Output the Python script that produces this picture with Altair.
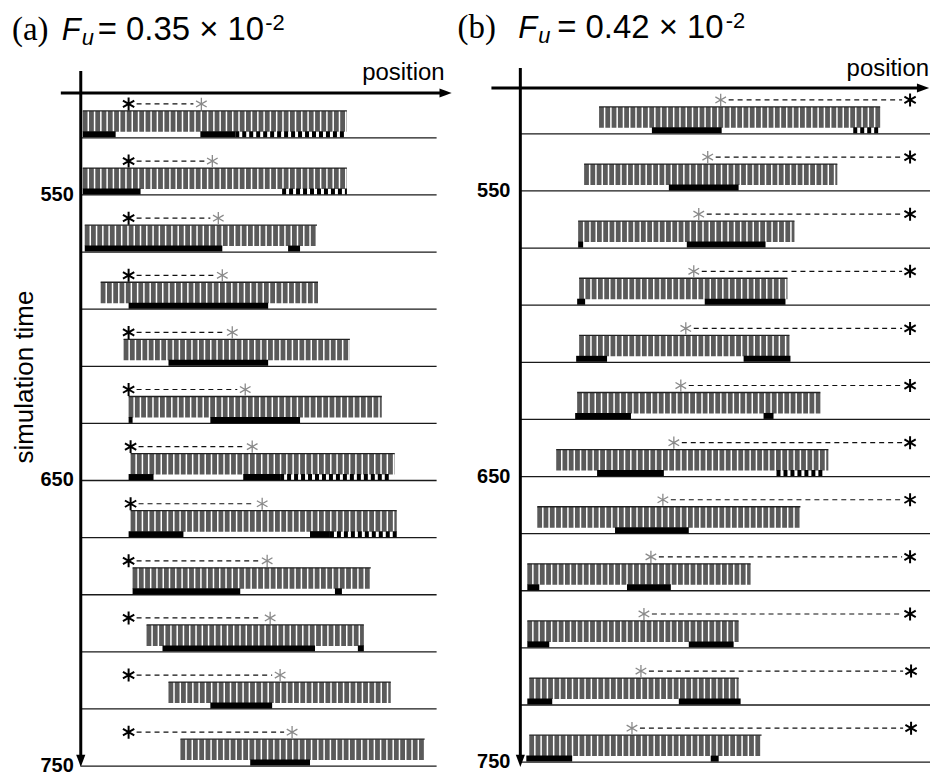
import altair as alt
import pandas as pd

# ---------------- data ----------------
times = [530, 550, 570, 590, 610, 630, 650, 670, 690, 710, 730, 750]
tick_times = [550, 650, 750]

# panel (a): positions measured from the time axis
a_bar_start = [2, 2, 4, 20, 43, 48, 50, 50, 52, 66, 88, 100]
a_bar_end = [267, 267, 237, 238, 270, 302, 315, 317, 291, 284, 311, 345]
a_star_solid = [48, 48, 48, 48, 48, 48, 50, 50, 48, 48, 48, 48]
a_star_light = [121, 132, 138, 142, 152, 165, 172, 182, 187, 190, 200, 212]
a_black = [(530, 2, 35), (530, 120, 155), (550, 2, 60), (570, 4, 142), (570, 208, 220),
           (590, 48, 188), (610, 88, 188), (630, 48, 52), (630, 130, 220),
           (650, 48, 73), (650, 163, 200), (670, 48, 103), (670, 230, 250),
           (690, 52, 160), (690, 255, 262), (710, 82, 235), (710, 278, 284),
           (730, 130, 192), (750, 170, 230)]
a_dotted = [(530, 155, 267), (550, 202, 267), (650, 200, 310), (670, 250, 317)]

# panel (b)
b_bar_start = [79, 64, 58, 59, 59, 57, 36, 17, 7, 7, 9, 9]
b_bar_end = [361, 318, 275, 268, 270, 301, 309, 281, 231, 219, 219, 242]
b_star_solid = [391, 391, 391, 391, 391, 391, 391, 391, 391, 391, 392, 392]
b_star_light = [201, 188, 179, 174, 166, 161, 154, 143, 131, 124, 121, 112]
b_black = [(530, 132, 202), (550, 149, 219), (570, 58, 63), (570, 167, 246),
           (590, 57, 65), (590, 185, 266), (610, 56, 87), (610, 224, 271),
           (630, 55, 111), (630, 244, 254), (650, 77, 144), (670, 95, 169),
           (690, 7, 19), (690, 107, 151), (710, 7, 29), (710, 169, 214),
           (730, 7, 32), (730, 159, 221), (750, 6, 52), (750, 191, 199)]
b_dotted = [(530, 334, 361), (650, 257, 305)]

title_a = ["(a)", "F", "u", "= 0.35 \u00d7 10", "-2"]
title_b = ["(b)", "F", "u", "= 0.42 \u00d7 10", "-2"]
axis_x_label = "position"
axis_y_label = "simulation time"

# ---------------- layout ----------------
PPU = 57.3 / 20.0          # pixels per time unit
SANS = "Liberation Sans"
SERIF = "Liberation Serif"
STAR = "M0,-1L0,1M-0.87,-0.5L0.87,0.5M-0.87,0.5L0.87,-0.5"
TRI_R = "M-1,-0.75L1,0L-1,0.75Z"
TRI_D = "M-0.75,-1L0,1L0.75,-1Z"


def tu(px):
    return px / PPU


def build(p):
    W, H = p["width"], p["height"]
    ax = p["axis_x"]
    x0 = p["left"] - ax
    base = p["base_y"]

    def t_of(py):
        return 530 + (py - base) / PPU

    xs = alt.Scale(domain=[x0, x0 + W], nice=False, zero=False)
    ys = alt.Scale(domain=[t_of(8), t_of(8 + H)], nice=False, zero=False, reverse=True)

    def X(f):
        return alt.X(f, type="quantitative", scale=xs, axis=None)

    def Y(f):
        return alt.Y(f, type="quantitative", scale=ys, axis=None)

    rows = pd.DataFrame({"time": times, "start": p["bar_start"], "end": p["bar_end"],
                         "solid": p["solid"], "light": p["light"]})
    rows["line_from"] = 0
    rows["line_to"] = p["line_end"] - ax
    rows["bar_y"] = rows["time"] - tu(16.5)
    rows["top_y"] = rows["time"] - tu(27)
    rows["star_y"] = rows["time"] - tu(34)
    lo = rows[["solid", "light"]].min(axis=1)
    hi = rows[["solid", "light"]].max(axis=1)
    rows["dash_from"] = lo + 8
    rows["dash_to"] = hi - 8

    blk = pd.DataFrame(p["black"], columns=["time", "a", "b"])
    blk["y"] = blk["time"] - tu(3.5)
    dot = pd.DataFrame(p["dotted"], columns=["time", "a", "b"])
    dot["y"] = dot["time"] - tu(3.5)

    layers = []
    layers.append(alt.Chart(rows).mark_rule(color="#1a1a1a", strokeWidth=1.3)
                  .encode(x=X("line_from"), x2="line_to", y=Y("time")))
    layers.append(alt.Chart(rows).mark_rule(color="#5a5a5a", strokeWidth=21, strokeDash=[4.8, 1.5])
                  .encode(x=X("start"), x2="end", y=Y("bar_y")))
    layers.append(alt.Chart(rows).mark_rule(color="#222222", strokeWidth=1.3)
                  .encode(x=X("start"), x2="end", y=Y("top_y")))
    layers.append(alt.Chart(blk).mark_rule(color="#000000", strokeWidth=6)
                  .encode(x=X("a"), x2="b", y=Y("y")))
    layers.append(alt.Chart(dot).mark_rule(color="#000000", strokeWidth=6, strokeDash=[4, 3])
                  .encode(x=X("a"), x2="b", y=Y("y")))
    layers.append(alt.Chart(rows).mark_rule(color="#111111", strokeWidth=1.2, strokeDash=[5, 4])
                  .encode(x=X("dash_from"), x2="dash_to", y=Y("star_y")))
    layers.append(alt.Chart(rows).mark_point(shape=STAR, filled=False, size=170, strokeWidth=2,
                                             color="#000000", opacity=1)
                  .encode(x=X("solid"), y=Y("star_y")))
    layers.append(alt.Chart(rows).mark_point(shape=STAR, filled=False, size=150, strokeWidth=1.3,
                                             color="#8a8a8a", opacity=1)
                  .encode(x=X("light"), y=Y("star_y")))

    # axes with arrows
    vax = pd.DataFrame({"x": [0], "y1": [t_of(p["vtop"])], "y2": [t_of(8 + H - 8)]})
    hax = pd.DataFrame({"x1": [p["hfrom"] - ax], "x2": [p["htip"] - ax - 6], "y": [t_of(p["hy"])]})
    layers.append(alt.Chart(vax).mark_rule(color="#000000", strokeWidth=3)
                  .encode(x=X("x"), y=Y("y1"), y2="y2"))
    layers.append(alt.Chart(hax).mark_rule(color="#000000", strokeWidth=3)
                  .encode(x=X("x1"), x2="x2", y=Y("y")))
    layers.append(alt.Chart(hax).mark_point(shape=TRI_R, filled=True, size=150, color="#000000", opacity=1)
                  .encode(x=X("x2"), y=Y("y")))
    layers.append(alt.Chart(vax).mark_point(shape=TRI_D, filled=True, size=150, color="#000000", opacity=1)
                  .encode(x=X("x"), y=Y("y2")))

    ticks = pd.DataFrame({"time": tick_times, "x": [0] * len(tick_times),
                          "label": [str(t) for t in tick_times]})
    layers.append(alt.Chart(ticks).mark_text(font=SANS, fontSize=20, fontWeight="bold", align="right",
                                             baseline="middle", dx=p["tick_dx"], color="#000000")
                  .encode(x=X("x"), y=Y("time"), text="label:N"))

    # text annotations (panel pixel coordinates)
    def txt(s, x, y, **kw):
        return alt.Chart(pd.DataFrame({"label": [s]})).mark_text(
            align=kw.pop("align", "left"), baseline="alphabetic", color="#000000", **kw
        ).encode(x=alt.value(x), y=alt.value(y), text="label:N")

    L = p["left"]
    tp = p["title"]
    tx = p["title_x"]
    ty = p["title_y"]
    layers.append(txt(tp[0], tx[0] - L, ty - 8, font=SERIF, fontSize=33))
    layers.append(txt(tp[1], tx[1] - L, ty - 8, font=SANS, fontSize=31, fontStyle="italic"))
    layers.append(txt(tp[2], tx[2] - L, ty - 8 + 5, font=SANS, fontSize=22, fontStyle="italic"))
    layers.append(txt(tp[3], tx[3] - L, ty - 8, font=SANS, fontSize=33))
    layers.append(txt(tp[4], tx[4] - L, ty - 8 - 10, font=SANS, fontSize=22))
    layers.append(txt(axis_x_label, p["pos_x"] - L, p["pos_y"] - 8, font=SANS, fontSize=24, align="right"))
    if p.get("ylabel"):
        layers.append(txt(axis_y_label, 32 - L, 375 - 8, font=SANS, fontSize=26, align="center", angle=270))

    return alt.layer(*layers).properties(width=W, height=H)


panel_a = build(dict(width=480, height=760, axis_x=80, left=8, base_y=135,
                     bar_start=a_bar_start, bar_end=a_bar_end, solid=a_star_solid, light=a_star_light,
                     black=a_black, dotted=a_dotted, line_end=437, vtop=68, hfrom=60, htip=452, hy=90,
                     tick_dx=-7, title=title_a, title_x=[11, 61, 81, 97, 265], title_y=37,
                     pos_x=445, pos_y=77, ylabel=True))
panel_b = build(dict(width=444, height=760, axis_x=521, left=488, base_y=131,
                     bar_start=b_bar_start, bar_end=b_bar_end, solid=b_star_solid, light=b_star_light,
                     black=b_black, dotted=b_dotted, line_end=932, vtop=65, hfrom=492, htip=931, hy=85,
                     tick_dx=-10, title=title_b, title_x=[458, 519, 539, 558, 727], title_y=35,
                     pos_x=931, pos_y=73, ylabel=False))

chart = alt.hconcat(panel_a, panel_b, spacing=0, bounds="flush").properties(
    padding=0
).configure_view(stroke="transparent")

chart.save("out.html", embed_options={"renderer": "svg", "actions": False})
